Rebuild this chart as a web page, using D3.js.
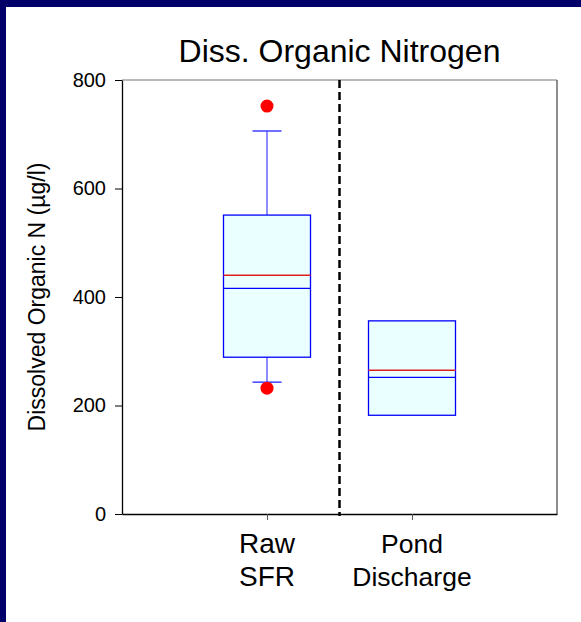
<!DOCTYPE html>
<html>
<head>
<meta charset="utf-8">
<script src="https://cdn.jsdelivr.net/npm/d3@7"></script>
<style>
  body { margin: 0; background: #fff; }
  svg { display: block; font-family: Arial, "Liberation Sans", sans-serif; }
</style>
</head>
<body>
<div id="chart"></div>
<script>
// box plot summaries
const categories = ["Raw\nSFR", "Pond\nDischarge"];
const catPos = [1, 2];
const q1 = [289, 182];
const median = [416, 252];
const mean = [440, 265];
const q3 = [551, 356];
const whiskLow = [243, null];
const whiskHigh = [706, null];
const outliers = [[752, 232], []];
const yTicks = [0, 200, 400, 600, 800];

const W = 581, H = 622;
const pLeft = 122, pRight = 557, pTop = 80, pBottom = 514;

const svg = d3.select("#chart").append("svg")
  .attr("width", W)
  .attr("height", H);

// navy frame strips (top and left)
svg.append("rect").attr("x", 0).attr("y", 0).attr("width", W).attr("height", 7).attr("fill", "#000068");
svg.append("rect").attr("x", 0).attr("y", 0).attr("width", 6).attr("height", H).attr("fill", "#000068");

const x = d3.scaleLinear().domain([0, 3]).range([pLeft, pRight]);
const y = d3.scaleLinear().domain([0, 800]).range([pBottom, pTop]);

// top / right frame
svg.append("line").attr("x1", pLeft).attr("x2", pRight).attr("y1", pTop).attr("y2", pTop)
  .attr("stroke", "#777").attr("stroke-width", 1.2);
svg.append("line").attr("x1", pRight).attr("x2", pRight).attr("y1", pTop).attr("y2", pBottom)
  .attr("stroke", "#444").attr("stroke-width", 1.2);

// y axis
const yAxis = svg.append("g")
  .attr("transform", "translate(" + pLeft + ",0)")
  .call(d3.axisLeft(y).tickValues(yTicks).tickSize(7).tickPadding(9).tickSizeOuter(0));
yAxis.select(".domain").attr("stroke", "#000").attr("stroke-width", 1.3);
yAxis.selectAll("text").style("font-size", "20px").attr("fill", "#000")
  .style("font-family", "Arial, 'Liberation Sans', sans-serif");

// x axis
const xAxis = svg.append("g")
  .attr("transform", "translate(0," + pBottom + ")")
  .call(d3.axisBottom(x).tickValues(catPos).tickSize(6).tickSizeOuter(0).tickFormat(""));
xAxis.select(".domain").attr("stroke", "#000").attr("stroke-width", 1.3);
xAxis.selectAll(".tick line").attr("stroke", "#555");

// category labels, two lines each
categories.forEach((c, i) => {
  const t = svg.append("text")
    .attr("x", x(catPos[i]))
    .attr("y", 553)
    .attr("text-anchor", "middle")
    .style("font-size", i === 0 ? "28px" : "26.5px")
    .attr("fill", "#000");
  c.split("\n").forEach((line, j) => {
    t.append("tspan").attr("x", x(catPos[i])).attr("dy", j === 0 ? 0 : 33).text(line);
  });
});

// divider between groups
svg.append("line")
  .attr("x1", x(1.5)).attr("x2", x(1.5))
  .attr("y1", pTop).attr("y2", pBottom + 2)
  .attr("stroke", "#000").attr("stroke-width", 2.5)
  .attr("stroke-dasharray", "8,4");

const boxW = 0.6, capW = 0.2;

catPos.forEach((p, i) => {
  const g = svg.append("g");
  if (whiskHigh[i] != null) {
    g.append("line").attr("x1", x(p)).attr("x2", x(p)).attr("y1", y(q3[i])).attr("y2", y(whiskHigh[i]))
      .attr("stroke", "#4040ff").attr("stroke-width", 1.2);
    g.append("line").attr("x1", x(p - capW / 2)).attr("x2", x(p + capW / 2)).attr("y1", y(whiskHigh[i])).attr("y2", y(whiskHigh[i]))
      .attr("stroke", "#4040ff").attr("stroke-width", 1.5);
  }
  if (whiskLow[i] != null) {
    g.append("line").attr("x1", x(p)).attr("x2", x(p)).attr("y1", y(q1[i])).attr("y2", y(whiskLow[i]))
      .attr("stroke", "#4040ff").attr("stroke-width", 1.2);
    g.append("line").attr("x1", x(p - capW / 2)).attr("x2", x(p + capW / 2)).attr("y1", y(whiskLow[i])).attr("y2", y(whiskLow[i]))
      .attr("stroke", "#4040ff").attr("stroke-width", 1.5);
  }
  g.append("rect")
    .attr("x", x(p - boxW / 2))
    .attr("y", y(q3[i]))
    .attr("width", x(p + boxW / 2) - x(p - boxW / 2))
    .attr("height", y(q1[i]) - y(q3[i]))
    .attr("fill", "#eaffff")
    .attr("stroke", "#0000ff")
    .attr("stroke-width", 1.3);
  g.append("line").attr("x1", x(p - boxW / 2)).attr("x2", x(p + boxW / 2)).attr("y1", y(mean[i])).attr("y2", y(mean[i]))
    .attr("stroke", "#e02020").attr("stroke-width", 1.6);
  g.append("line").attr("x1", x(p - boxW / 2)).attr("x2", x(p + boxW / 2)).attr("y1", y(median[i])).attr("y2", y(median[i]))
    .attr("stroke", "#0000ff").attr("stroke-width", 1.3);
  g.selectAll("circle").data(outliers[i]).enter().append("circle")
    .attr("cx", x(p))
    .attr("cy", d => y(d))
    .attr("r", 6.5)
    .attr("fill", "#ff0000");
});

// title
svg.append("text")
  .attr("x", (pLeft + pRight) / 2)
  .attr("y", 62)
  .attr("text-anchor", "middle")
  .style("font-size", "32px")
  .attr("fill", "#000")
  .text("Diss. Organic Nitrogen");

// y label
svg.append("text")
  .attr("transform", "translate(45," + (pTop + pBottom) / 2 + ") rotate(-90)")
  .attr("text-anchor", "middle")
  .style("font-size", "23px")
  .attr("fill", "#000")
  .text("Dissolved Organic N (µg/l)");
</script>
</body>
</html>
